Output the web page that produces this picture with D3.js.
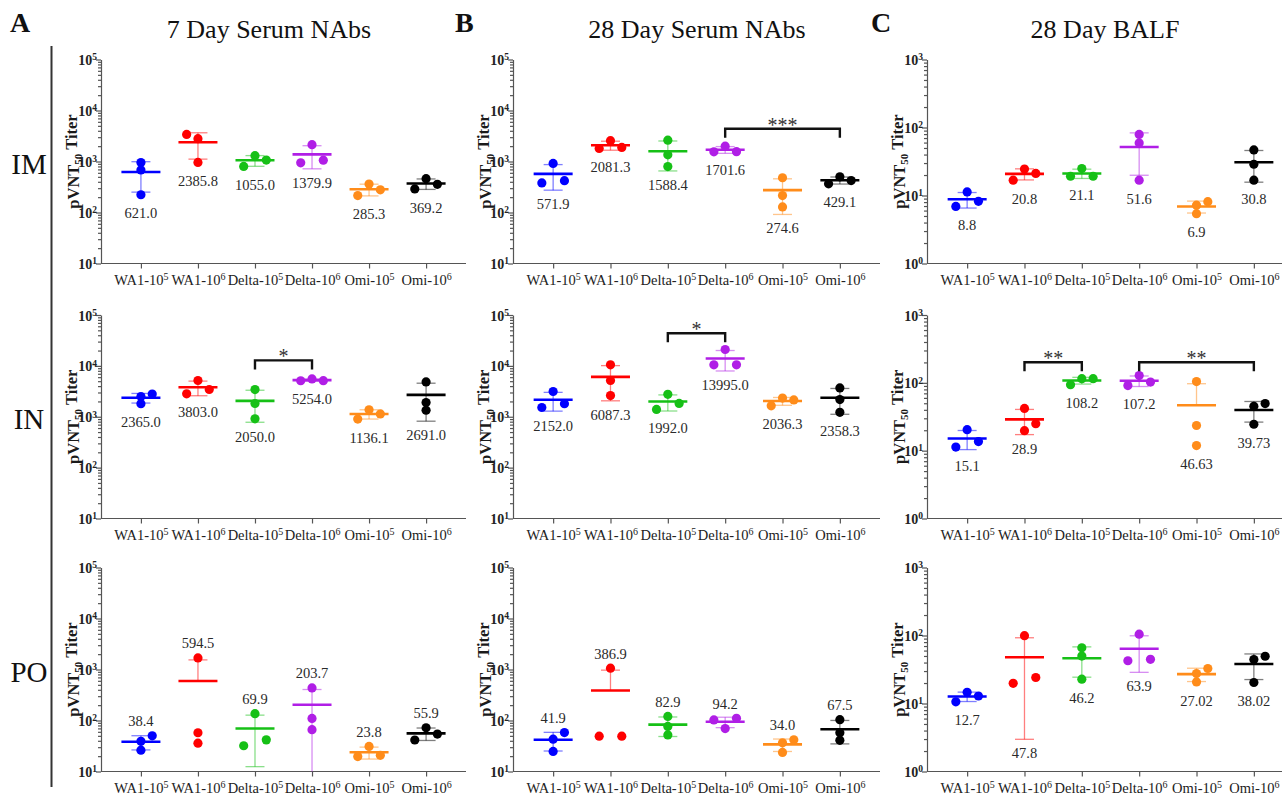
<!DOCTYPE html>
<html>
<head>
<meta charset="utf-8">
<script src="https://cdn.jsdelivr.net/npm/d3@7"></script>
<style>
  body { margin: 0; background: #fff; }
  svg  { display: block; font-family: 'Times New Roman', 'Liberation Serif', serif; }
</style>
</head>
<body>
<svg id="chart" width="1282" height="795"></svg>
<script>
// ############################################################################
// Data
// ############################################################################

const groupNames  = ['WA1-10', 'WA1-10', 'Delta-10', 'Delta-10', 'Omi-10', 'Omi-10']
const groupExps   = ['5', '6', '5', '6', '5', '6']
const groupColors = ['#0000ff', '#ff0000', '#16c016', '#b01ee6', '#ff8c1a', '#000000']

const columnTitles  = ['7 Day Serum NAbs', '28 Day Serum NAbs', '28 Day BALF']
const columnLetters = ['A', 'B', 'C']
const routes        = ['IM', 'IN', 'PO']
const yDomains      = [[10, 1e5], [10, 1e5], [1, 1e3]]   // per column

// Titer values of the three animals per group (pVNT50)
const im7    = [[955, 685, 223], [3400, 2800, 957.4], [800, 1300, 1065], [940, 2140, 1059.7], [215, 362, 278.9], [290, 460, 357.6]]
const im28   = [[380, 915, 420.7], [1800, 2560, 1883.9], [2620, 1350, 795.2], [1550, 2000, 1554.8], [480, 215, 128.8], [365, 500, 422.3]]
const imBalf = [[6.9, 11.3, 8.2], [16.8, 24.5, 21.1], [19.2, 24.9, 19.2], [79, 59, 16.8], [7.2, 5.4, 8.1], [46.8, 28.8, 16.8]]
const in7    = [[2500, 2790, 1805], [2820, 5160, 3429], [3420, 1820, 910], [5100, 5550, 5112], [900, 1370, 1138.3], [4830, 1900, 1343]]
const in28   = [[1520, 3135, 1801], [10500, 5160, 2601.9], [1395, 2755, 1826], [10500, 20985, 10500], [1640, 2330, 2138.9], [3680, 2175, 1219.9]]
const inBalf = [[11.3, 20.4, 13.6], [42, 19.7, 25], [94, 115.3, 115.3], [91, 128, 102.6], [104.49, 23.5, 11.9], [45.2, 49.49, 24.5]]
const po7    = [[39, 50, 26.2], [1690, 57.5, 36], [32, 136, 41.7], [435, 110, 66.1], [19.6, 31, 20.8], [41.5, 72, 54.2]]
const po28   = [[43, 58, 24.7], [1062, 49.35, 49.35], [120, 76.5, 52.2], [102.5, 69.5, 110.6], [36.5, 41.8, 23.7], [104, 57.7, 40.8]]
const poBalf = [[10.6, 14.6, 12.9], [99.5, 19.8, 24.1], [66, 49.8, 22.8], [104.5, 42.5, 44.7], [27.6, 32.7, 20.76], [44.2, 49.5, 20.36]]

// Scatter lane of each animal (-1 left, 0 centre, 1 right)
const im7Lanes    = [[0, 0, 0], [-1, 0, 0], [-1, 0, 1], [-1, 0, 1], [-1, 0, 1], [-1, 0, 1]]
const im28Lanes   = [[-1, 0, 1], [-1, 0, 1], [0, 0, 0], [-1, 0, 1], [0, 0, 0], [-1, 0, 1]]
const imBalfLanes = [[-1, 0, 1], [-1, 0, 1], [-1, 0, 1], [0, 0, 0], [0, 0, 1], [0, 0, 0]]
const in7Lanes    = [[0, 1, 0], [-1, 0, 1], [0, 0, 0], [-1, 0, 1], [-1, 0, 1], [0, 0, 0]]
const in28Lanes   = [[-1, 0, 1], [0, 0, 0], [-1, 0, 1], [-1, 0, 1], [-1, 0, 1], [0, 0, 0]]
const inBalfLanes = [[-1, 0, 1], [0, 0, 1], [-1, 0, 1], [-1, 0, 1], [0, 0, 0], [0, 1, 0]]
const po7Lanes    = [[0, 1, 0], [0, 0, 0], [-1, 0, 1], [0, 0, 0], [-1, 0, 1], [-1, 0, 1]]
const po28Lanes   = [[0, 1, 0], [0, -1, 1], [0, 0, 0], [-1, 0, 1], [0, 1, 0], [0, 0, 0]]
const poBalfLanes = [[-1, 0, 1], [0, -1, 1], [0, 0, 0], [0, -1, 1], [0, 1, 0], [0, 1, 0]]

// Mean labels as printed
const im7Means    = ['621.0', '2385.8', '1055.0', '1379.9', '285.3', '369.2']
const im28Means   = ['571.9', '2081.3', '1588.4', '1701.6', '274.6', '429.1']
const imBalfMeans = ['8.8', '20.8', '21.1', '51.6', '6.9', '30.8']
const in7Means    = ['2365.0', '3803.0', '2050.0', '5254.0', '1136.1', '2691.0']
const in28Means   = ['2152.0', '6087.3', '1992.0', '13995.0', '2036.3', '2358.3']
const inBalfMeans = ['15.1', '28.9', '108.2', '107.2', '46.63', '39.73']
const po7Means    = ['38.4', '594.5', '69.9', '203.7', '23.8', '55.9']
const po28Means   = ['41.9', '386.9', '82.9', '94.2', '34.0', '67.5']
const poBalfMeans = ['12.7', '47.8', '46.2', '63.9', '27.02', '38.02']

// Significance brackets: [row, column, fromGroup, toGroup, titer level, stars]
const brackets = [
  [0, 1, 3, 5, 4400, '***'],
  [1, 0, 2, 3, 12800, '*'],
  [1, 1, 2, 3, 43700, '*'],
  [1, 2, 1, 2, 201, '**'],
  [1, 2, 3, 5, 201, '**'],
]

// ############################################################################
// Layout
// ############################################################################

const cols = [
  { left: 101, right: 466 },
  { left: 513, right: 880 },
  { left: 927, right: 1294 },
]
const rows = [
  { top: 59.5,  bottom: 263.5 },
  { top: 315,   bottom: 518.5 },
  { top: 567.5, bottom: 771.5 },
]

const table = [
  [[im7, im7Lanes, im7Means, 'below'], [im28, im28Lanes, im28Means, 'below'], [imBalf, imBalfLanes, imBalfMeans, 'below']],
  [[in7, in7Lanes, in7Means, 'below'], [in28, in28Lanes, in28Means, 'below'], [inBalf, inBalfLanes, inBalfMeans, 'below']],
  [[po7, po7Lanes, po7Means, 'above'], [po28, po28Lanes, po28Means, 'above'], [poBalf, poBalfLanes, poBalfMeans, 'below']],
]

const svg = d3.select('#chart')
svg.append('rect').attr('width', 1282).attr('height', 795).attr('fill', '#fff')

const axisColor = '#555'
const laneScale = d3.scaleLinear().domain([-1, 1]).range([-11.3, 11.3])
const dotR = 4.6

// ============================================================================
// Header: letters, titles, row labels, divider
// ============================================================================

const titleCenters = [269, 697, 1105]
const letterX = [10, 455, 871]

columnTitles.forEach((t, i) => {
  svg.append('text')
    .attr('x', titleCenters[i]).attr('y', 38)
    .attr('text-anchor', 'middle')
    .style('font-size', '26px').style('fill', '#111')
    .text(t)
  svg.append('text')
    .attr('x', letterX[i]).attr('y', 32)
    .style('font-size', '28px').style('font-weight', 'bold').style('fill', '#111')
    .text(columnLetters[i])
})

routes.forEach((r, i) => {
  svg.append('text')
    .attr('x', 29).attr('y', (rows[i].top + rows[i].bottom) / 2 + 2)
    .attr('text-anchor', 'middle')
    .attr('dominant-baseline', 'central')
    .style('font-size', '29px').style('fill', '#111')
    .text(r)
})

svg.append('line')
  .attr('x1', 51.5).attr('x2', 51.5).attr('y1', 46).attr('y2', 787)
  .attr('stroke', '#333').attr('stroke-width', 2)

// ============================================================================
// Panels
// ============================================================================

table.forEach((rowPanels, ri) => {
  rowPanels.forEach(([points, lanes, means, labelSide], ci) => {
    const c = cols[ci], r = rows[ri]
    const g = svg.append('g')

    const x = d3.scalePoint().domain(d3.range(6)).range([c.left, c.right]).padding(0.7)
    const y = d3.scaleLog().domain(yDomains[ci]).range([r.bottom, r.top])
    const [yMin, yMax] = yDomains[ci]

    // --- y axis: minor + major ticks
    const allTicks = y.ticks()
    const majors = allTicks.filter(v => Number.isInteger(Math.log10(v)))
    const minors = allTicks.filter(v => !Number.isInteger(Math.log10(v)))

    const yMinor = g.append('g').attr('transform', `translate(${c.left},0)`)
      .call(d3.axisLeft(y).tickValues(minors).tickSize(3).tickFormat(''))
    yMinor.select('.domain').remove()
    const yMajor = g.append('g').attr('transform', `translate(${c.left},0)`)
      .call(d3.axisLeft(y).tickValues(majors).tickSize(5).tickSizeOuter(0).tickFormat(''))
    yMajor.attr('font-family', null).attr('font-size', null)
    g.selectAll('.domain, .tick line').attr('stroke', axisColor).attr('stroke-width', 1.2)

    yMajor.selectAll('.tick').each(function (v) {
      const t = d3.select(this).append('text')
        .attr('x', -4).attr('dy', '0.36em')
        .attr('text-anchor', 'end')
        .style('font-size', '14px').style('font-weight', 'bold')
        .style('fill', '#222')
      t.append('tspan').text('10')
      t.append('tspan').attr('dy', '-0.5em').style('font-size', '9.5px')
        .text(Math.round(Math.log10(v)))
    })

    // --- y axis title
    const yt = g.append('text')
      .attr('transform', `translate(${c.left - 22},${(r.top + r.bottom) / 2}) rotate(-90)`)
      .attr('text-anchor', 'middle')
      .style('font-size', '16.5px').style('font-weight', 'bold').style('fill', '#1a1a1a')
    yt.append('tspan').text('pVNT')
    yt.append('tspan').attr('dy', '0.3em').style('font-size', '11px').text('50')
    yt.append('tspan').attr('dy', '-0.3em').text(' Titer')

    // --- x axis
    const xAxis = g.append('g').attr('transform', `translate(0,${r.bottom})`)
      .call(d3.axisBottom(x).tickSize(5).tickSizeOuter(0).tickFormat(''))
    xAxis.attr('font-family', null).attr('font-size', null)
    xAxis.select('.domain').attr('d', `M${c.left},0H${c.right}`)
    xAxis.selectAll('.domain, .tick line').attr('stroke', axisColor).attr('stroke-width', 1.2)
    xAxis.selectAll('.tick').each(function (i) {
      const t = d3.select(this).append('text')
        .attr('y', 21)
        .attr('text-anchor', 'middle')
        .style('font-size', '14.5px').style('fill', '#222')
      t.append('tspan').text(groupNames[i])
      t.append('tspan').attr('dy', '-0.45em').style('font-size', '10px').text(groupExps[i])
    })

    // --- groups: error bars, mean line, dots, label
    points.forEach((vals, gi) => {
      const cx = x(gi)
      const col = groupColors[gi]
      const mean = d3.mean(vals)
      const sd = d3.deviation(vals)
      const hi = mean + sd, lo = mean - sd
      const gg = g.append('g')

      // upper bar
      gg.append('line')
        .attr('x1', cx).attr('x2', cx).attr('y1', y(mean)).attr('y2', y(Math.min(hi, yMax)))
        .attr('stroke', col).attr('stroke-opacity', 0.5).attr('stroke-width', 1.3)
      gg.append('line')
        .attr('x1', cx - 9.5).attr('x2', cx + 9.5).attr('y1', y(hi)).attr('y2', y(hi))
        .attr('stroke', col).attr('stroke-opacity', 0.5).attr('stroke-width', 1.3)

      // lower bar (skipped when it is not positive on the log axis)
      let lowPx = null
      if (lo > 0) {
        gg.append('line')
          .attr('x1', cx).attr('x2', cx).attr('y1', y(mean)).attr('y2', y(Math.max(lo, yMin)))
          .attr('stroke', col).attr('stroke-opacity', 0.5).attr('stroke-width', 1.3)
        if (lo >= yMin) {
          lowPx = y(lo)
          gg.append('line')
            .attr('x1', cx - 9.5).attr('x2', cx + 9.5).attr('y1', lowPx).attr('y2', lowPx)
            .attr('stroke', col).attr('stroke-opacity', 0.5).attr('stroke-width', 1.3)
        }
      }

      // mean line
      gg.append('line')
        .attr('x1', cx - 19.5).attr('x2', cx + 19.5).attr('y1', y(mean)).attr('y2', y(mean))
        .attr('stroke', col).attr('stroke-width', 2.6)

      // animals
      gg.selectAll('circle').data(vals).join('circle')
        .attr('cx', (v, k) => cx + laneScale(lanes[gi][k]))
        .attr('cy', v => y(v))
        .attr('r', dotR)
        .attr('fill', col)

      // mean label
      let ly
      if (labelSide === 'below') {
        let bottom = y(d3.min(vals)) + dotR
        if (lowPx !== null) bottom = Math.max(bottom, lowPx)
        ly = bottom + 14
      } else {
        const top = Math.min(y(d3.max(vals)) - dotR, y(hi))
        ly = top - 10
      }
      gg.append('text')
        .attr('x', cx).attr('y', ly)
        .attr('text-anchor', 'middle')
        .attr('dominant-baseline', 'central')
        .style('font-size', '14.5px').style('fill', '#2a2a2a')
        .text(means[gi])
    })

    // --- significance brackets
    brackets.filter(b => b[0] === ri && b[1] === ci).forEach(([, , from, to, level, stars]) => {
      const by = y(level)
      g.append('path')
        .attr('d', `M${x(from)},${by + 9}V${by}H${x(to)}V${by + 9}`)
        .attr('fill', 'none').attr('stroke', '#111').attr('stroke-width', 2.4)
      g.append('text')
        .attr('x', (x(from) + x(to)) / 2).attr('y', by + 3)
        .attr('text-anchor', 'middle')
        .style('font-size', '20px').style('fill', '#333')
        .text(stars)
    })
  })
})
</script>
</body>
</html>
